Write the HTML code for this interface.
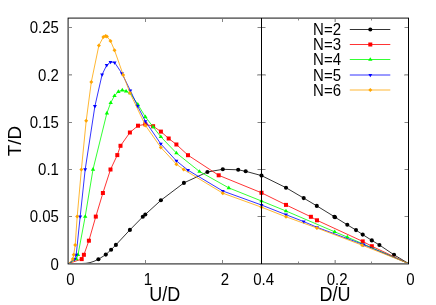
<!DOCTYPE html>
<html><head><meta charset="utf-8"><title>plot</title>
<style>
html,body{margin:0;padding:0;background:#fff;}
body{width:436px;height:305px;position:relative;overflow:hidden;font-family:"Liberation Sans",sans-serif;color:#000;}
</style></head><body>
<svg width="436" height="305" viewBox="0 0 436 305" style="position:absolute;left:0;top:0">
<rect width="436" height="305" fill="#fff"/>
<path d="M68.50,263.50 L80.00,263.60 L86.00,263.30 L90.00,262.60 L94.00,261.30 L98.40,259.30 L105.80,254.60 L111.10,249.70 L115.90,244.90 L129.90,229.90 L142.80,216.80 L145.30,214.50 L160.90,200.30 L183.90,182.90 L207.40,172.00 L222.80,169.30 L238.20,169.80 L245.70,171.30 L261.50,175.60 M261.50,175.60 L286.00,187.70 L303.70,198.10 L316.80,205.90 L334.40,216.70 L335.00,217.20 L347.30,224.80 L356.00,230.10 L362.70,234.60 L371.80,240.40 L379.40,245.00 L394.00,254.80 L408.50,263.50" fill="none" stroke="#000" stroke-width="0.8" stroke-linejoin="round"/>
<circle cx="98.4" cy="259.3" r="2.05" fill="#000"/><circle cx="105.8" cy="254.6" r="2.05" fill="#000"/><circle cx="111.1" cy="249.7" r="2.05" fill="#000"/><circle cx="115.9" cy="244.9" r="2.05" fill="#000"/><circle cx="129.9" cy="229.9" r="2.05" fill="#000"/><circle cx="142.8" cy="216.8" r="2.05" fill="#000"/><circle cx="145.3" cy="214.5" r="2.05" fill="#000"/><circle cx="160.9" cy="200.3" r="2.05" fill="#000"/><circle cx="183.9" cy="182.9" r="2.05" fill="#000"/><circle cx="207.4" cy="172.0" r="2.05" fill="#000"/><circle cx="222.8" cy="169.3" r="2.05" fill="#000"/><circle cx="238.2" cy="169.8" r="2.05" fill="#000"/><circle cx="245.7" cy="171.3" r="2.05" fill="#000"/><circle cx="261.5" cy="175.6" r="2.05" fill="#000"/><circle cx="286.0" cy="187.7" r="2.05" fill="#000"/><circle cx="303.7" cy="198.1" r="2.05" fill="#000"/><circle cx="316.8" cy="205.9" r="2.05" fill="#000"/><circle cx="334.4" cy="216.7" r="2.05" fill="#000"/><circle cx="335.0" cy="217.2" r="2.05" fill="#000"/><circle cx="347.3" cy="224.8" r="2.05" fill="#000"/><circle cx="356.0" cy="230.1" r="2.05" fill="#000"/><circle cx="362.7" cy="234.6" r="2.05" fill="#000"/><circle cx="371.8" cy="240.4" r="2.05" fill="#000"/><circle cx="379.4" cy="245.0" r="2.05" fill="#000"/><circle cx="394.0" cy="254.8" r="2.05" fill="#000"/>
<path d="M68.50,263.50 L81.70,259.10 L83.90,254.80 L88.90,240.70 L95.80,216.60 L102.90,193.00 L110.50,169.50 L117.30,155.10 L120.50,145.80 L129.90,132.50 L138.00,125.70 L145.30,124.30 L153.10,126.20 L160.90,131.60 L168.70,138.50 L176.40,144.50 L188.00,155.20 L218.70,175.30 L261.50,192.80 M261.50,192.80 L286.00,204.90 L310.90,216.80 L317.00,220.30 L362.70,241.40 L371.80,246.20 L408.50,263.50" fill="none" stroke="#ff0000" stroke-width="0.8" stroke-linejoin="round"/>
<rect x="79.7" y="257.1" width="4.0" height="4.0" fill="#ff0000"/><rect x="81.9" y="252.8" width="4.0" height="4.0" fill="#ff0000"/><rect x="86.9" y="238.7" width="4.0" height="4.0" fill="#ff0000"/><rect x="93.8" y="214.6" width="4.0" height="4.0" fill="#ff0000"/><rect x="100.9" y="191.0" width="4.0" height="4.0" fill="#ff0000"/><rect x="108.5" y="167.5" width="4.0" height="4.0" fill="#ff0000"/><rect x="115.3" y="153.1" width="4.0" height="4.0" fill="#ff0000"/><rect x="118.5" y="143.8" width="4.0" height="4.0" fill="#ff0000"/><rect x="127.9" y="130.5" width="4.0" height="4.0" fill="#ff0000"/><rect x="136.0" y="123.7" width="4.0" height="4.0" fill="#ff0000"/><rect x="143.3" y="122.3" width="4.0" height="4.0" fill="#ff0000"/><rect x="151.1" y="124.2" width="4.0" height="4.0" fill="#ff0000"/><rect x="158.9" y="129.6" width="4.0" height="4.0" fill="#ff0000"/><rect x="166.7" y="136.5" width="4.0" height="4.0" fill="#ff0000"/><rect x="174.4" y="142.5" width="4.0" height="4.0" fill="#ff0000"/><rect x="186.0" y="153.2" width="4.0" height="4.0" fill="#ff0000"/><rect x="216.7" y="173.3" width="4.0" height="4.0" fill="#ff0000"/><rect x="259.5" y="190.8" width="4.0" height="4.0" fill="#ff0000"/><rect x="284.0" y="202.9" width="4.0" height="4.0" fill="#ff0000"/><rect x="308.9" y="214.8" width="4.0" height="4.0" fill="#ff0000"/><rect x="315.0" y="218.3" width="4.0" height="4.0" fill="#ff0000"/><rect x="360.7" y="239.4" width="4.0" height="4.0" fill="#ff0000"/><rect x="369.8" y="244.2" width="4.0" height="4.0" fill="#ff0000"/>
<path d="M68.50,263.50 L76.40,259.00 L78.00,254.80 L85.20,216.50 L93.00,169.40 L106.90,113.10 L110.70,102.70 L114.50,95.80 L118.40,91.60 L122.30,90.10 L126.10,91.20 L130.10,93.00 L137.80,104.40 L145.40,116.90 L153.20,127.00 L160.80,136.80 L176.40,153.00 L199.50,171.50 L228.80,187.90 L261.50,201.00 M261.50,201.00 L286.00,211.00 L334.70,231.80 L347.30,237.10 L408.50,263.50" fill="none" stroke="#00ff00" stroke-width="0.8" stroke-linejoin="round"/>
<path d="M76.4,256.7 l2.2,3.6 l-4.4,0z" fill="#00ff00"/><path d="M78.0,252.5 l2.2,3.6 l-4.4,0z" fill="#00ff00"/><path d="M85.2,214.2 l2.2,3.6 l-4.4,0z" fill="#00ff00"/><path d="M93.0,167.1 l2.2,3.6 l-4.4,0z" fill="#00ff00"/><path d="M106.9,110.8 l2.2,3.6 l-4.4,0z" fill="#00ff00"/><path d="M110.7,100.4 l2.2,3.6 l-4.4,0z" fill="#00ff00"/><path d="M114.5,93.5 l2.2,3.6 l-4.4,0z" fill="#00ff00"/><path d="M118.4,89.3 l2.2,3.6 l-4.4,0z" fill="#00ff00"/><path d="M122.3,87.8 l2.2,3.6 l-4.4,0z" fill="#00ff00"/><path d="M126.1,88.9 l2.2,3.6 l-4.4,0z" fill="#00ff00"/><path d="M130.1,90.7 l2.2,3.6 l-4.4,0z" fill="#00ff00"/><path d="M137.8,102.1 l2.2,3.6 l-4.4,0z" fill="#00ff00"/><path d="M145.4,114.6 l2.2,3.6 l-4.4,0z" fill="#00ff00"/><path d="M153.2,124.7 l2.2,3.6 l-4.4,0z" fill="#00ff00"/><path d="M160.8,134.5 l2.2,3.6 l-4.4,0z" fill="#00ff00"/><path d="M176.4,150.7 l2.2,3.6 l-4.4,0z" fill="#00ff00"/><path d="M199.5,169.2 l2.2,3.6 l-4.4,0z" fill="#00ff00"/><path d="M228.8,185.6 l2.2,3.6 l-4.4,0z" fill="#00ff00"/><path d="M261.5,198.7 l2.2,3.6 l-4.4,0z" fill="#00ff00"/><path d="M286.0,208.7 l2.2,3.6 l-4.4,0z" fill="#00ff00"/><path d="M334.7,229.5 l2.2,3.6 l-4.4,0z" fill="#00ff00"/><path d="M347.3,234.8 l2.2,3.6 l-4.4,0z" fill="#00ff00"/>
<path d="M68.50,263.50 L74.60,259.00 L76.20,254.90 L80.20,216.50 L85.20,169.40 L94.90,106.20 L102.10,74.60 L106.70,65.20 L110.50,62.00 L114.60,62.50 L121.90,73.40 L130.30,90.50 L137.60,106.10 L145.40,121.30 L160.80,143.90 L176.40,160.90 L188.00,170.20 L222.80,191.00 L261.50,205.00 M261.50,205.00 L286.00,214.70 L303.70,221.60 L317.00,227.30 L363.70,244.70 L408.50,263.50" fill="none" stroke="#0000ff" stroke-width="0.8" stroke-linejoin="round"/>
<path d="M74.6,261.2 l1.95,-3.3 l-3.90,0z" fill="#0000ff"/><path d="M76.2,257.1 l1.95,-3.3 l-3.90,0z" fill="#0000ff"/><path d="M80.2,218.7 l1.95,-3.3 l-3.90,0z" fill="#0000ff"/><path d="M85.2,171.6 l1.95,-3.3 l-3.90,0z" fill="#0000ff"/><path d="M94.9,108.4 l1.95,-3.3 l-3.90,0z" fill="#0000ff"/><path d="M102.1,76.8 l1.95,-3.3 l-3.90,0z" fill="#0000ff"/><path d="M106.7,67.4 l1.95,-3.3 l-3.90,0z" fill="#0000ff"/><path d="M110.5,64.2 l1.95,-3.3 l-3.90,0z" fill="#0000ff"/><path d="M114.6,64.7 l1.95,-3.3 l-3.90,0z" fill="#0000ff"/><path d="M121.9,75.6 l1.95,-3.3 l-3.90,0z" fill="#0000ff"/><path d="M130.3,92.7 l1.95,-3.3 l-3.90,0z" fill="#0000ff"/><path d="M137.6,108.3 l1.95,-3.3 l-3.90,0z" fill="#0000ff"/><path d="M145.4,123.5 l1.95,-3.3 l-3.90,0z" fill="#0000ff"/><path d="M160.8,146.1 l1.95,-3.3 l-3.90,0z" fill="#0000ff"/><path d="M176.4,163.1 l1.95,-3.3 l-3.90,0z" fill="#0000ff"/><path d="M188.0,172.4 l1.95,-3.3 l-3.90,0z" fill="#0000ff"/><path d="M222.8,193.2 l1.95,-3.3 l-3.90,0z" fill="#0000ff"/><path d="M261.5,207.2 l1.95,-3.3 l-3.90,0z" fill="#0000ff"/><path d="M286.0,216.9 l1.95,-3.3 l-3.90,0z" fill="#0000ff"/><path d="M303.7,223.8 l1.95,-3.3 l-3.90,0z" fill="#0000ff"/><path d="M317.0,229.5 l1.95,-3.3 l-3.90,0z" fill="#0000ff"/><path d="M363.7,246.9 l1.95,-3.3 l-3.90,0z" fill="#0000ff"/>
<path d="M68.50,263.50 L72.80,259.00 L73.70,254.80 L75.20,244.90 L77.20,216.50 L81.40,169.40 L86.20,120.80 L91.30,82.00 L98.90,45.40 L103.40,37.00 L105.60,35.90 L106.90,36.40 L110.50,40.90 L114.50,50.20 L123.20,74.90 L130.00,93.00 L145.40,125.40 L160.80,147.40 L176.40,164.20 L183.70,169.50 L222.80,193.20 L261.50,207.20 M261.50,207.20 L286.00,216.80 L316.90,228.00 L362.20,245.20 L408.50,263.50" fill="none" stroke="#ffa500" stroke-width="0.8" stroke-linejoin="round"/>
<path d="M72.8,257.0 l2.0,2.0 l-2.0,2.0 l-2.0,-2.0z" fill="#ffa500"/><path d="M73.7,252.8 l2.0,2.0 l-2.0,2.0 l-2.0,-2.0z" fill="#ffa500"/><path d="M75.2,242.9 l2.0,2.0 l-2.0,2.0 l-2.0,-2.0z" fill="#ffa500"/><path d="M77.2,214.5 l2.0,2.0 l-2.0,2.0 l-2.0,-2.0z" fill="#ffa500"/><path d="M81.4,167.4 l2.0,2.0 l-2.0,2.0 l-2.0,-2.0z" fill="#ffa500"/><path d="M86.2,118.8 l2.0,2.0 l-2.0,2.0 l-2.0,-2.0z" fill="#ffa500"/><path d="M91.3,80.0 l2.0,2.0 l-2.0,2.0 l-2.0,-2.0z" fill="#ffa500"/><path d="M98.9,43.4 l2.0,2.0 l-2.0,2.0 l-2.0,-2.0z" fill="#ffa500"/><path d="M103.4,35.0 l2.0,2.0 l-2.0,2.0 l-2.0,-2.0z" fill="#ffa500"/><path d="M105.6,33.9 l2.0,2.0 l-2.0,2.0 l-2.0,-2.0z" fill="#ffa500"/><path d="M106.9,34.4 l2.0,2.0 l-2.0,2.0 l-2.0,-2.0z" fill="#ffa500"/><path d="M110.5,38.9 l2.0,2.0 l-2.0,2.0 l-2.0,-2.0z" fill="#ffa500"/><path d="M114.5,48.2 l2.0,2.0 l-2.0,2.0 l-2.0,-2.0z" fill="#ffa500"/><path d="M123.2,72.9 l2.0,2.0 l-2.0,2.0 l-2.0,-2.0z" fill="#ffa500"/><path d="M130.0,91.0 l2.0,2.0 l-2.0,2.0 l-2.0,-2.0z" fill="#ffa500"/><path d="M145.4,123.4 l2.0,2.0 l-2.0,2.0 l-2.0,-2.0z" fill="#ffa500"/><path d="M160.8,145.4 l2.0,2.0 l-2.0,2.0 l-2.0,-2.0z" fill="#ffa500"/><path d="M176.4,162.2 l2.0,2.0 l-2.0,2.0 l-2.0,-2.0z" fill="#ffa500"/><path d="M183.7,167.5 l2.0,2.0 l-2.0,2.0 l-2.0,-2.0z" fill="#ffa500"/><path d="M222.8,191.2 l2.0,2.0 l-2.0,2.0 l-2.0,-2.0z" fill="#ffa500"/><path d="M261.5,205.2 l2.0,2.0 l-2.0,2.0 l-2.0,-2.0z" fill="#ffa500"/><path d="M286.0,214.8 l2.0,2.0 l-2.0,2.0 l-2.0,-2.0z" fill="#ffa500"/><path d="M316.9,226.0 l2.0,2.0 l-2.0,2.0 l-2.0,-2.0z" fill="#ffa500"/><path d="M362.2,243.2 l2.0,2.0 l-2.0,2.0 l-2.0,-2.0z" fill="#ffa500"/>
<g shape-rendering="crispEdges">
<rect x="67" y="17" width="1" height="248" fill="#9c9c9c"/>
<rect x="68" y="17" width="1" height="248" fill="#727272"/>
<rect x="67" y="17" width="342" height="1" fill="#9c9c9c"/>
<rect x="68" y="18" width="341" height="1" fill="#727272"/>
<rect x="68" y="263" width="341" height="1" fill="#727272"/>
<rect x="67" y="264" width="342" height="1" fill="#9c9c9c"/>
<rect x="68" y="18" width="1" height="1" fill="#333"/>
<rect x="68" y="263" width="1" height="1" fill="#333"/>
<rect x="67" y="17" width="1" height="1" fill="#dcdcdc"/>
<rect x="67" y="264" width="1" height="1" fill="#dcdcdc"/>
<rect x="69" y="27" width="3" height="1" fill="#858585"/>
<rect x="258" y="27" width="7" height="1" fill="#858585"/>
<rect x="257" y="27" width="1" height="1" fill="#c4c4c4"/>
<rect x="265" y="27" width="1" height="1" fill="#c4c4c4"/>
<rect x="405" y="27" width="3" height="1" fill="#858585"/>
<rect x="404" y="27" width="1" height="1" fill="#c4c4c4"/>
<rect x="69" y="74" width="3" height="1" fill="#a4a4a4"/>
<rect x="258" y="74" width="7" height="1" fill="#a4a4a4"/>
<rect x="257" y="74" width="1" height="1" fill="#c4c4c4"/>
<rect x="265" y="74" width="1" height="1" fill="#c4c4c4"/>
<rect x="405" y="74" width="3" height="1" fill="#a4a4a4"/>
<rect x="404" y="74" width="1" height="1" fill="#c4c4c4"/>
<rect x="69" y="75" width="3" height="1" fill="#c8c8c8"/>
<rect x="258" y="75" width="7" height="1" fill="#c8c8c8"/>
<rect x="257" y="75" width="1" height="1" fill="#c4c4c4"/>
<rect x="265" y="75" width="1" height="1" fill="#c4c4c4"/>
<rect x="405" y="75" width="3" height="1" fill="#c8c8c8"/>
<rect x="404" y="75" width="1" height="1" fill="#c4c4c4"/>
<rect x="69" y="122" width="3" height="1" fill="#858585"/>
<rect x="258" y="122" width="7" height="1" fill="#858585"/>
<rect x="257" y="122" width="1" height="1" fill="#c4c4c4"/>
<rect x="265" y="122" width="1" height="1" fill="#c4c4c4"/>
<rect x="405" y="122" width="3" height="1" fill="#858585"/>
<rect x="404" y="122" width="1" height="1" fill="#c4c4c4"/>
<rect x="69" y="169" width="3" height="1" fill="#858585"/>
<rect x="258" y="169" width="7" height="1" fill="#858585"/>
<rect x="257" y="169" width="1" height="1" fill="#c4c4c4"/>
<rect x="265" y="169" width="1" height="1" fill="#c4c4c4"/>
<rect x="405" y="169" width="3" height="1" fill="#858585"/>
<rect x="404" y="169" width="1" height="1" fill="#c4c4c4"/>
<rect x="69" y="216" width="3" height="1" fill="#858585"/>
<rect x="258" y="216" width="7" height="1" fill="#858585"/>
<rect x="257" y="216" width="1" height="1" fill="#c4c4c4"/>
<rect x="265" y="216" width="1" height="1" fill="#c4c4c4"/>
<rect x="405" y="216" width="3" height="1" fill="#858585"/>
<rect x="404" y="216" width="1" height="1" fill="#c4c4c4"/>
<rect x="145" y="260" width="1" height="3" fill="#858585"/>
<rect x="145" y="19" width="1" height="3" fill="#858585"/>
<rect x="222" y="260" width="1" height="3" fill="#858585"/>
<rect x="222" y="19" width="1" height="3" fill="#858585"/>
<rect x="334" y="260" width="1" height="3" fill="#cccccc"/>
<rect x="334" y="19" width="1" height="3" fill="#cccccc"/>
<rect x="335" y="260" width="1" height="3" fill="#a4a4a4"/>
<rect x="335" y="19" width="1" height="3" fill="#a4a4a4"/>
<rect x="298" y="262" width="1" height="1" fill="#858585"/>
<rect x="298" y="261" width="1" height="1" fill="#c4c4c4"/>
<rect x="298" y="19" width="1" height="1" fill="#858585"/>
<rect x="298" y="20" width="1" height="1" fill="#c4c4c4"/>
<rect x="371" y="262" width="1" height="1" fill="#858585"/>
<rect x="371" y="261" width="1" height="1" fill="#c4c4c4"/>
<rect x="371" y="19" width="1" height="1" fill="#858585"/>
<rect x="371" y="20" width="1" height="1" fill="#c4c4c4"/>
<rect x="261" y="18" width="1" height="246" fill="#000"/>
<rect x="408" y="18" width="1" height="246" fill="#000"/>
</g>
<path d="M349.8,29.5 H390.3" stroke="#000" stroke-width="0.8"/>
<circle cx="370.3" cy="29.5" r="2.05" fill="#000"/>
<path d="M349.8,44.5 H390.3" stroke="#ff0000" stroke-width="0.8"/>
<rect x="368.3" y="42.5" width="4.0" height="4.0" fill="#ff0000"/>
<path d="M349.8,59.5 H390.3" stroke="#00ff00" stroke-width="0.8"/>
<path d="M370.3,57.2 l2.2,3.6 l-4.4,0z" fill="#00ff00"/>
<path d="M349.8,75.0 H390.3" stroke="#0000ff" stroke-width="0.8"/>
<path d="M370.3,77.2 l1.95,-3.3 l-3.90,0z" fill="#0000ff"/>
<path d="M349.8,90.0 H390.3" stroke="#ffa500" stroke-width="0.8"/>
<path d="M370.3,88.0 l2.0,2.0 l-2.0,2.0 l-2.0,-2.0z" fill="#ffa500"/>
</svg>
<div style="position:absolute;left:0;top:0;width:436px;height:305px;will-change:transform;">
<div style="position:absolute;white-space:nowrap;font-size:15px;line-height:1;top:255.58px;right:377.1px;transform:scaleY(1.136);transform-origin:50% 50%;">0</div>
<div style="position:absolute;white-space:nowrap;font-size:15px;line-height:1;top:208.33px;right:377.1px;transform:scaleY(1.136);transform-origin:50% 50%;">0.05</div>
<div style="position:absolute;white-space:nowrap;font-size:15px;line-height:1;top:161.08px;right:377.1px;transform:scaleY(1.136);transform-origin:50% 50%;">0.1</div>
<div style="position:absolute;white-space:nowrap;font-size:15px;line-height:1;top:113.83px;right:377.1px;transform:scaleY(1.136);transform-origin:50% 50%;">0.15</div>
<div style="position:absolute;white-space:nowrap;font-size:15px;line-height:1;top:66.58px;right:377.1px;transform:scaleY(1.136);transform-origin:50% 50%;">0.2</div>
<div style="position:absolute;white-space:nowrap;font-size:15px;line-height:1;top:19.32px;right:377.1px;transform:scaleY(1.136);transform-origin:50% 50%;">0.25</div>
<div style="position:absolute;white-space:nowrap;font-size:15px;line-height:1;top:271.12px;left:70.3px;transform:translateX(-50%) scaleY(1.136);transform-origin:50% 50%;">0</div>
<div style="position:absolute;white-space:nowrap;font-size:15px;line-height:1;top:271.12px;left:147.8px;transform:translateX(-50%) scaleY(1.136);transform-origin:50% 50%;">1</div>
<div style="position:absolute;white-space:nowrap;font-size:15px;line-height:1;top:271.12px;left:224.8px;transform:translateX(-50%) scaleY(1.136);transform-origin:50% 50%;">2</div>
<div style="position:absolute;white-space:nowrap;font-size:15px;line-height:1;top:271.12px;left:263.6px;transform:translateX(-50%) scaleY(1.136);transform-origin:50% 50%;">0.4</div>
<div style="position:absolute;white-space:nowrap;font-size:15px;line-height:1;top:271.12px;left:337.1px;transform:translateX(-50%) scaleY(1.136);transform-origin:50% 50%;">0.2</div>
<div style="position:absolute;white-space:nowrap;font-size:15px;line-height:1;top:271.12px;left:410.5px;transform:translateX(-50%) scaleY(1.136);transform-origin:50% 50%;">0</div>
<div style="position:absolute;white-space:nowrap;font-size:18px;line-height:1;top:286.01px;left:164.8px;transform:translateX(-50%) scaleY(1.1);transform-origin:50% 84.6%;">U/D</div>
<div style="position:absolute;white-space:nowrap;font-size:18px;line-height:1;top:286.01px;left:335.0px;transform:translateX(-50%) scaleY(1.1);transform-origin:50% 84.6%;">D/U</div>
<div style="position:absolute;white-space:nowrap;font-size:15px;line-height:1;top:21.05px;right:95.0px;transform:scaleY(1.136);transform-origin:50% 50%;">N=2</div>
<div style="position:absolute;white-space:nowrap;font-size:15px;line-height:1;top:36.05px;right:95.0px;transform:scaleY(1.136);transform-origin:50% 50%;">N=3</div>
<div style="position:absolute;white-space:nowrap;font-size:15px;line-height:1;top:51.05px;right:95.0px;transform:scaleY(1.136);transform-origin:50% 50%;">N=4</div>
<div style="position:absolute;white-space:nowrap;font-size:15px;line-height:1;top:66.55px;right:95.0px;transform:scaleY(1.136);transform-origin:50% 50%;">N=5</div>
<div style="position:absolute;white-space:nowrap;font-size:15px;line-height:1;top:81.55px;right:95.0px;transform:scaleY(1.136);transform-origin:50% 50%;">N=6</div>
<div style="position:absolute;left:14.9px;top:141.15px;width:0;height:0;"><div style="position:absolute;white-space:nowrap;font-size:18.8px;line-height:1;transform:translate(-50%,-50%) rotate(-90deg);">T/D</div></div>
</div>
</body></html>
